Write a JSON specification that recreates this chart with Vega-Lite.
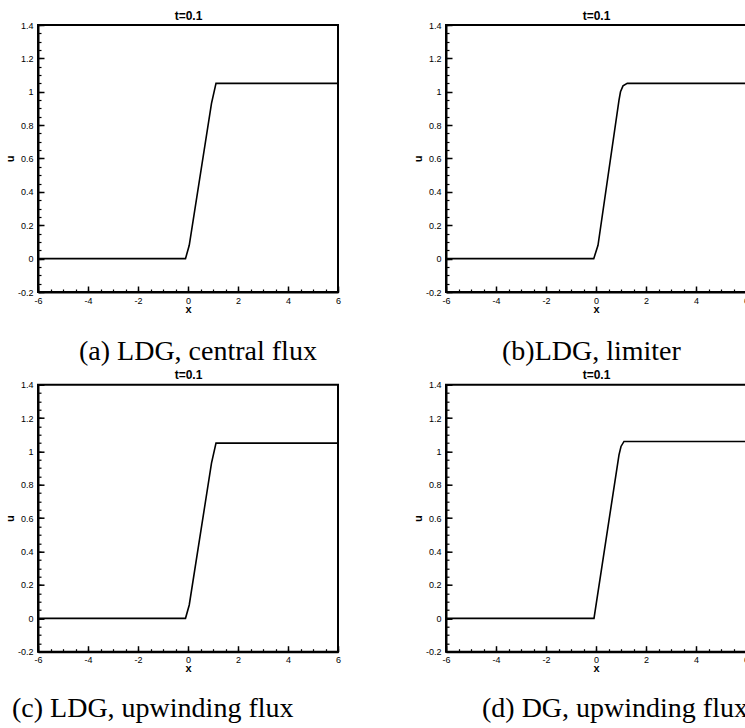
{
  "$schema": "https://vega.github.io/schema/vega-lite/v6.json",
  "background": "white",
  "padding": {"left": 3, "top": 8, "right": 0, "bottom": 0},
  "bounds": "flush",
  "columns": 2,
  "spacing": {"row": 92.7, "column": 108},
  "datasets": {
    "a": [{"x": -6, "u": 0}, {"x": -0.1, "u": 0}, {"x": 0.05, "u": 0.08}, {"x": 0.94, "u": 0.93}, {"x": 1.12, "u": 1.05}, {"x": 6, "u": 1.05}],
    "b": [{"x": -6, "u": 0}, {"x": -0.09, "u": 0}, {"x": 0.08, "u": 0.08}, {"x": 0.92, "u": 0.95}, {"x": 0.98, "u": 1.0}, {"x": 1.08, "u": 1.035}, {"x": 1.25, "u": 1.05}, {"x": 6, "u": 1.05}],
    "c": [{"x": -6, "u": 0}, {"x": -0.1, "u": 0}, {"x": 0.05, "u": 0.08}, {"x": 0.94, "u": 0.93}, {"x": 1.12, "u": 1.05}, {"x": 6, "u": 1.05}],
    "d": [{"x": -6, "u": 0}, {"x": -0.08, "u": 0}, {"x": 0.92, "u": 0.98}, {"x": 1.0, "u": 1.03}, {"x": 1.12, "u": 1.06}, {"x": 6, "u": 1.06}]
  },
  "concat": [
    {
      "data": {"name": "a"},
      "width": 300, "height": 267,
      "title": {"text": "(a) LDG, central flux", "orient": "bottom", "anchor": "start", "frame": "group", "dx": 41, "offset": 46, "baseline": "alphabetic", "font": "Liberation Serif", "fontSize": 28, "fontWeight": "normal", "color": "black"},
      "layer": [
        {"mark": {"type": "line", "color": "black", "strokeWidth": 1.6},
         "encoding": {
           "x": {"field": "x", "type": "quantitative", "scale": {"domain": [-6, 6], "nice": false, "zero": false},
                 "axis": {"orient": "bottom", "values": [-6, -4, -2, 0, 2, 4, 6], "tickSize": -6, "tickWidth": 1.5, "domainWidth": 2, "labelPadding": 10, "title": "x", "titlePadding": -2, "labelFlush": false, "labelOverlap": false, "labelExpr": "replace(format(datum.value, '~g'), '\u2212', '-')"}},
           "y": {"field": "u", "type": "quantitative", "scale": {"domain": [-0.2, 1.4], "nice": false, "zero": false},
                 "axis": {"orient": "left", "values": [-0.2, 0, 0.2, 0.4, 0.6, 0.8, 1, 1.2, 1.4], "tickSize": -6, "tickWidth": 1.5, "domainWidth": 2, "labelPadding": 11, "title": "u", "titlePadding": 2, "labelFlush": false, "labelOverlap": false, "labelExpr": "replace(format(datum.value, '~g'), '\u2212', '-')"}}
         }},
        {"mark": {"type": "line", "opacity": 0},
         "encoding": {
           "x": {"field": "x", "type": "quantitative", "axis": {"orient": "bottom", "values": [-6, -5.5, -5, -4.5, -4, -3.5, -3, -2.5, -2, -1.5, -1, -0.5, 0, 0.5, 1, 1.5, 2, 2.5, 3, 3.5, 4, 4.5, 5, 5.5, 6], "tickSize": -3, "tickWidth": 1.2, "labels": false, "domain": false, "title": null}},
           "y": {"field": "u", "type": "quantitative", "axis": {"orient": "left", "values": [-0.2, -0.15, -0.1, -0.05, 0, 0.05, 0.1, 0.15, 0.2, 0.25, 0.3, 0.35, 0.4, 0.45, 0.5, 0.55, 0.6, 0.65, 0.7, 0.75, 0.8, 0.85, 0.9, 0.95, 1, 1.05, 1.1, 1.15, 1.2, 1.25, 1.3, 1.35, 1.4], "tickSize": -3, "tickWidth": 1.2, "labels": false, "domain": false, "title": null}}
         }},
        {"mark": {"type": "line", "opacity": 0},
         "encoding": {
           "x": {"field": "x", "type": "quantitative", "axis": {"orient": "top", "title": "t=0.1", "labels": false, "ticks": false, "domain": false, "titlePadding": 3, "titleFontSize": 12}},
           "y": {"field": "u", "type": "quantitative", "axis": null}
         }}
      ],
      "resolve": {"axis": {"x": "independent", "y": "independent"}}
    },
    {
      "data": {"name": "b"},
      "width": 300, "height": 267,
      "title": {"text": "(b)LDG, limiter", "orient": "bottom", "anchor": "start", "frame": "group", "dx": 56, "offset": 46, "baseline": "alphabetic", "font": "Liberation Serif", "fontSize": 28, "fontWeight": "normal", "color": "black"},
      "layer": [
        {"mark": {"type": "line", "color": "black", "strokeWidth": 1.6},
         "encoding": {
           "x": {"field": "x", "type": "quantitative", "scale": {"domain": [-6, 6], "nice": false, "zero": false},
                 "axis": {"orient": "bottom", "values": [-6, -4, -2, 0, 2, 4, 6], "tickSize": -6, "tickWidth": 1.5, "domainWidth": 2, "labelPadding": 10, "title": "x", "titlePadding": -2, "labelFlush": false, "labelOverlap": false, "labelExpr": "replace(format(datum.value, '~g'), '\u2212', '-')"}},
           "y": {"field": "u", "type": "quantitative", "scale": {"domain": [-0.2, 1.4], "nice": false, "zero": false},
                 "axis": {"orient": "left", "values": [-0.2, 0, 0.2, 0.4, 0.6, 0.8, 1, 1.2, 1.4], "tickSize": -6, "tickWidth": 1.5, "domainWidth": 2, "labelPadding": 11, "title": "u", "titlePadding": 2, "labelFlush": false, "labelOverlap": false, "labelExpr": "replace(format(datum.value, '~g'), '\u2212', '-')"}}
         }},
        {"mark": {"type": "line", "opacity": 0},
         "encoding": {
           "x": {"field": "x", "type": "quantitative", "axis": {"orient": "bottom", "values": [-6, -5.5, -5, -4.5, -4, -3.5, -3, -2.5, -2, -1.5, -1, -0.5, 0, 0.5, 1, 1.5, 2, 2.5, 3, 3.5, 4, 4.5, 5, 5.5, 6], "tickSize": -3, "tickWidth": 1.2, "labels": false, "domain": false, "title": null}},
           "y": {"field": "u", "type": "quantitative", "axis": {"orient": "left", "values": [-0.2, -0.15, -0.1, -0.05, 0, 0.05, 0.1, 0.15, 0.2, 0.25, 0.3, 0.35, 0.4, 0.45, 0.5, 0.55, 0.6, 0.65, 0.7, 0.75, 0.8, 0.85, 0.9, 0.95, 1, 1.05, 1.1, 1.15, 1.2, 1.25, 1.3, 1.35, 1.4], "tickSize": -3, "tickWidth": 1.2, "labels": false, "domain": false, "title": null}}
         }},
        {"mark": {"type": "line", "opacity": 0},
         "encoding": {
           "x": {"field": "x", "type": "quantitative", "axis": {"orient": "top", "title": "t=0.1", "labels": false, "ticks": false, "domain": false, "titlePadding": 3, "titleFontSize": 12}},
           "y": {"field": "u", "type": "quantitative", "axis": null}
         }}
      ],
      "resolve": {"axis": {"x": "independent", "y": "independent"}}
    },
    {
      "data": {"name": "c"},
      "width": 300, "height": 267,
      "title": {"text": "(c) LDG, upwinding flux", "orient": "bottom", "anchor": "start", "frame": "group", "dx": -26, "offset": 43, "baseline": "alphabetic", "font": "Liberation Serif", "fontSize": 28, "fontWeight": "normal", "color": "black"},
      "layer": [
        {"mark": {"type": "line", "color": "black", "strokeWidth": 1.6},
         "encoding": {
           "x": {"field": "x", "type": "quantitative", "scale": {"domain": [-6, 6], "nice": false, "zero": false},
                 "axis": {"orient": "bottom", "values": [-6, -4, -2, 0, 2, 4, 6], "tickSize": -6, "tickWidth": 1.5, "domainWidth": 2, "labelPadding": 10, "title": "x", "titlePadding": -2, "labelFlush": false, "labelOverlap": false, "labelExpr": "replace(format(datum.value, '~g'), '\u2212', '-')"}},
           "y": {"field": "u", "type": "quantitative", "scale": {"domain": [-0.2, 1.4], "nice": false, "zero": false},
                 "axis": {"orient": "left", "values": [-0.2, 0, 0.2, 0.4, 0.6, 0.8, 1, 1.2, 1.4], "tickSize": -6, "tickWidth": 1.5, "domainWidth": 2, "labelPadding": 11, "title": "u", "titlePadding": 2, "labelFlush": false, "labelOverlap": false, "labelExpr": "replace(format(datum.value, '~g'), '\u2212', '-')"}}
         }},
        {"mark": {"type": "line", "opacity": 0},
         "encoding": {
           "x": {"field": "x", "type": "quantitative", "axis": {"orient": "bottom", "values": [-6, -5.5, -5, -4.5, -4, -3.5, -3, -2.5, -2, -1.5, -1, -0.5, 0, 0.5, 1, 1.5, 2, 2.5, 3, 3.5, 4, 4.5, 5, 5.5, 6], "tickSize": -3, "tickWidth": 1.2, "labels": false, "domain": false, "title": null}},
           "y": {"field": "u", "type": "quantitative", "axis": {"orient": "left", "values": [-0.2, -0.15, -0.1, -0.05, 0, 0.05, 0.1, 0.15, 0.2, 0.25, 0.3, 0.35, 0.4, 0.45, 0.5, 0.55, 0.6, 0.65, 0.7, 0.75, 0.8, 0.85, 0.9, 0.95, 1, 1.05, 1.1, 1.15, 1.2, 1.25, 1.3, 1.35, 1.4], "tickSize": -3, "tickWidth": 1.2, "labels": false, "domain": false, "title": null}}
         }},
        {"mark": {"type": "line", "opacity": 0},
         "encoding": {
           "x": {"field": "x", "type": "quantitative", "axis": {"orient": "top", "title": "t=0.1", "labels": false, "ticks": false, "domain": false, "titlePadding": 3, "titleFontSize": 12}},
           "y": {"field": "u", "type": "quantitative", "axis": null}
         }}
      ],
      "resolve": {"axis": {"x": "independent", "y": "independent"}}
    },
    {
      "data": {"name": "d"},
      "width": 300, "height": 267,
      "title": {"text": "(d) DG, upwinding flux", "orient": "bottom", "anchor": "start", "frame": "group", "dx": 36, "offset": 43, "baseline": "alphabetic", "font": "Liberation Serif", "fontSize": 28, "fontWeight": "normal", "color": "black"},
      "layer": [
        {"mark": {"type": "line", "color": "black", "strokeWidth": 1.6},
         "encoding": {
           "x": {"field": "x", "type": "quantitative", "scale": {"domain": [-6, 6], "nice": false, "zero": false},
                 "axis": {"orient": "bottom", "values": [-6, -4, -2, 0, 2, 4, 6], "tickSize": -6, "tickWidth": 1.5, "domainWidth": 2, "labelPadding": 10, "title": "x", "titlePadding": -2, "labelFlush": false, "labelOverlap": false, "labelExpr": "replace(format(datum.value, '~g'), '\u2212', '-')"}},
           "y": {"field": "u", "type": "quantitative", "scale": {"domain": [-0.2, 1.4], "nice": false, "zero": false},
                 "axis": {"orient": "left", "values": [-0.2, 0, 0.2, 0.4, 0.6, 0.8, 1, 1.2, 1.4], "tickSize": -6, "tickWidth": 1.5, "domainWidth": 2, "labelPadding": 11, "title": "u", "titlePadding": 2, "labelFlush": false, "labelOverlap": false, "labelExpr": "replace(format(datum.value, '~g'), '\u2212', '-')"}}
         }},
        {"mark": {"type": "line", "opacity": 0},
         "encoding": {
           "x": {"field": "x", "type": "quantitative", "axis": {"orient": "bottom", "values": [-6, -5.5, -5, -4.5, -4, -3.5, -3, -2.5, -2, -1.5, -1, -0.5, 0, 0.5, 1, 1.5, 2, 2.5, 3, 3.5, 4, 4.5, 5, 5.5, 6], "tickSize": -3, "tickWidth": 1.2, "labels": false, "domain": false, "title": null}},
           "y": {"field": "u", "type": "quantitative", "axis": {"orient": "left", "values": [-0.2, -0.15, -0.1, -0.05, 0, 0.05, 0.1, 0.15, 0.2, 0.25, 0.3, 0.35, 0.4, 0.45, 0.5, 0.55, 0.6, 0.65, 0.7, 0.75, 0.8, 0.85, 0.9, 0.95, 1, 1.05, 1.1, 1.15, 1.2, 1.25, 1.3, 1.35, 1.4], "tickSize": -3, "tickWidth": 1.2, "labels": false, "domain": false, "title": null}}
         }},
        {"mark": {"type": "line", "opacity": 0},
         "encoding": {
           "x": {"field": "x", "type": "quantitative", "axis": {"orient": "top", "title": "t=0.1", "labels": false, "ticks": false, "domain": false, "titlePadding": 3, "titleFontSize": 12}},
           "y": {"field": "u", "type": "quantitative", "axis": null}
         }}
      ],
      "resolve": {"axis": {"x": "independent", "y": "independent"}}
    }
  ],
  "config": {
    "view": {"stroke": "black", "strokeWidth": 2},
    "axis": {"grid": false, "labelFont": "Liberation Sans", "labelFontSize": 9, "labelColor": "black", "titleFont": "Liberation Sans", "titleFontSize": 11, "titleFontWeight": "bold", "titleColor": "black", "tickColor": "black", "domainColor": "black"}
  }
}
